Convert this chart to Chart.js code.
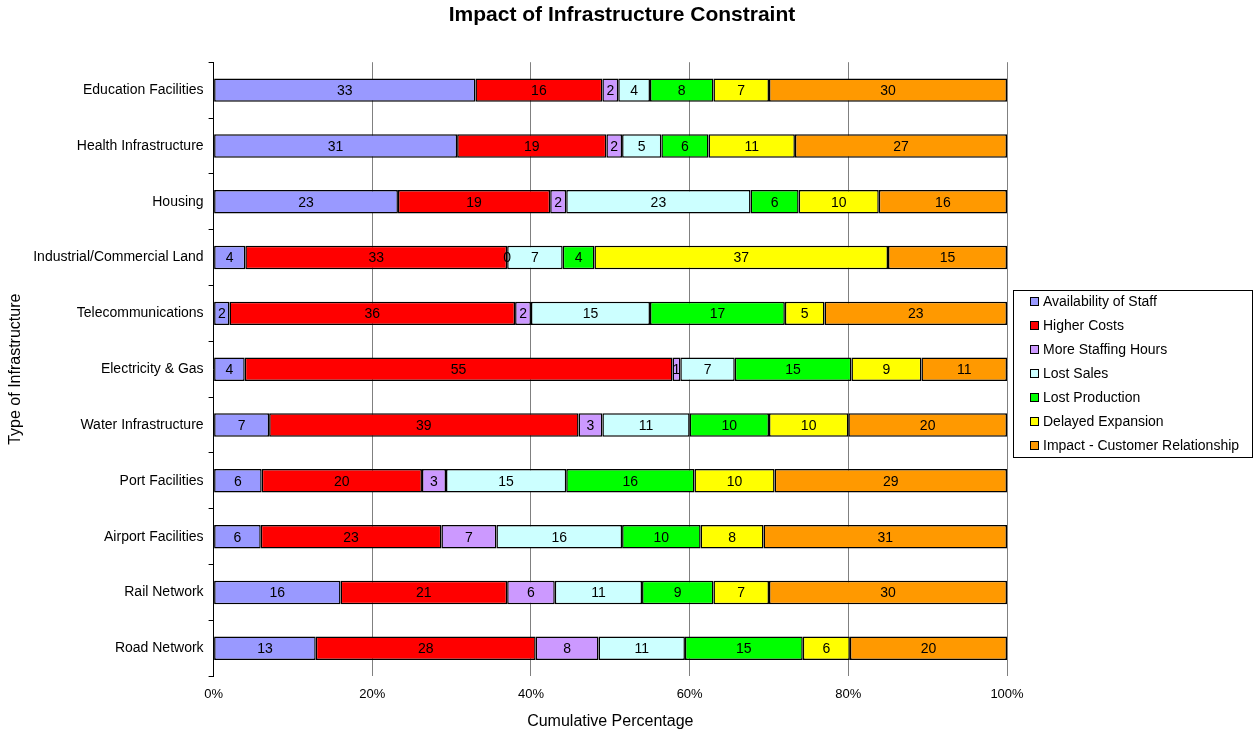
<!DOCTYPE html>
<html>
<head>
<meta charset="utf-8">
<script src="https://cdn.jsdelivr.net/npm/chart.js@4.4.0/dist/chart.umd.min.js"></script>
<style>
  html, body { margin: 0; padding: 0; background: #fff; }
  #wrap { width: 1255px; height: 733px; }
</style>
</head>
<body>
<div id="wrap"><canvas id="grafica" width="1255" height="733"></canvas></div>
<script>
// categorias (de arriba hacia abajo)
const tipos = ["Education Facilities", "Health Infrastructure", "Housing", "Industrial/Commercial Land",
  "Telecommunications", "Electricity & Gas", "Water Infrastructure", "Port Facilities",
  "Airport Facilities", "Rail Network", "Road Network"];

const staff      = [33, 31, 23, 4, 2, 4, 7, 6, 6, 16, 13];
const costs      = [16, 19, 19, 33, 36, 55, 39, 20, 23, 21, 28];
const hours      = [2, 2, 2, 0, 2, 1, 3, 3, 7, 6, 8];
const sales      = [4, 5, 23, 7, 15, 7, 11, 15, 16, 11, 11];
const production = [8, 6, 6, 4, 17, 15, 10, 16, 10, 9, 15];
const expansion  = [7, 11, 10, 37, 5, 9, 10, 10, 8, 7, 6];
const customer   = [30, 27, 16, 15, 23, 11, 20, 29, 31, 30, 20];

const xTicks = [0, 20, 40, 60, 80, 100];

const FUENTE = "'Liberation Sans', Arial, sans-serif";

const series = [
  { nombre: "Availability of Staff", datos: staff, color: "#9999FF" },
  { nombre: "Higher Costs", datos: costs, color: "#FF0000" },
  { nombre: "More Staffing Hours", datos: hours, color: "#CC99FF" },
  { nombre: "Lost Sales", datos: sales, color: "#CCFFFF" },
  { nombre: "Lost Production", datos: production, color: "#00FF00" },
  { nombre: "Delayed Expansion", datos: expansion, color: "#FFFF00" },
  { nombre: "Impact - Customer Relationship", datos: customer, color: "#FF9900" }
];

// totales por fila para el apilado al 100%
const totales = tipos.map((t, i) => series.reduce((s, serie) => s + serie.datos[i], 0));

const datasets = series.map(serie => ({
  label: serie.nombre,
  data: serie.datos.map((v, i) => v / totales[i] * 100),
  valores: serie.datos,
  backgroundColor: serie.color,
  borderColor: "#000",
  borderWidth: 1.5,
  borderSkipped: false,
  barPercentage: 0.42,
  categoryPercentage: 1.0
}));

// etiquetas dentro de las barras
const etiquetasBarras = {
  id: "etiquetasBarras",
  afterDatasetsDraw(chart) {
    const ctx = chart.ctx;
    ctx.save();
    ctx.font = "14px " + FUENTE;
    ctx.fillStyle = "#000";
    ctx.textAlign = "center";
    ctx.textBaseline = "middle";
    chart.data.datasets.forEach((ds, di) => {
      const meta = chart.getDatasetMeta(di);
      meta.data.forEach((bar, i) => {
        const cx = (bar.x + bar.base) / 2;
        ctx.fillText(String(ds.valores[i]), cx, bar.y + 1);
      });
    });
    ctx.restore();
  }
};

// espacio reservado a la derecha para la leyenda (el titulo queda centrado en todo el ancho)
const espacioLeyenda = {
  id: "espacioLeyenda",
  beforeInit(chart) {
    Chart.layouts.addBox(chart, {
      position: "right",
      weight: 500,
      fullSize: false,
      options: {},
      left: 0, top: 0, right: 0, bottom: 0, width: 0, height: 0,
      isHorizontal() { return false; },
      update(maxWidth, maxHeight) { this.width = 231; this.height = maxHeight; },
      draw() {}
    });
  }
};

// leyenda con marco, a la derecha del grafico
const leyenda = {
  id: "leyenda",
  afterDraw(chart) {
    const ctx = chart.ctx;
    const x0 = chart.chartArea.right + 6;
    const y0 = 290;
    ctx.save();
    ctx.strokeStyle = "#000";
    ctx.lineWidth = 1;
    ctx.strokeRect(x0 + 0.5, y0 + 0.5, 239, 167);
    ctx.font = "14px " + FUENTE;
    ctx.textAlign = "left";
    ctx.textBaseline = "middle";
    chart.data.datasets.forEach((ds, i) => {
      const y = y0 + 11 + i * 24;
      ctx.fillStyle = ds.backgroundColor;
      ctx.fillRect(x0 + 17, y - 4, 8, 8);
      ctx.strokeRect(x0 + 17.5, y - 3.5, 8, 8);
      ctx.fillStyle = "#000";
      ctx.fillText(ds.label, x0 + 30, y + 1);
    });
    ctx.restore();
  }
};

new Chart(document.getElementById("grafica"), {
  type: "bar",
  data: { labels: tipos, datasets: datasets },
  options: {
    indexAxis: "y",
    responsive: false,
    animation: false,
    layout: { padding: { left: 6, right: 17, top: 0, bottom: 2 } },
    plugins: {
      title: {
        display: true,
        text: "Impact of Infrastructure Constraint",
        color: "#000",
        font: { family: FUENTE, size: 21, weight: "bold" },
        padding: { top: 3, bottom: 34 }
      },
      legend: { display: false },
      tooltip: { enabled: false }
    },
    scales: {
      x: {
        stacked: true,
        min: 0,
        max: 100,
        afterBuildTicks(axis) { axis.ticks = xTicks.map(v => ({ value: v })); },
        ticks: {
          color: "#000",
          font: { family: FUENTE, size: 13 },
          callback: v => v + "%",
          padding: 10
        },
        grid: { color: "#808080", lineWidth: 1, drawTicks: false },
        border: { display: false },
        title: {
          display: true,
          text: "Cumulative Percentage",
          color: "#000",
          font: { family: FUENTE, size: 16 },
          padding: { top: 0, bottom: 0 }
        }
      },
      y: {
        stacked: true,
        ticks: {
          color: "#000",
          font: { family: FUENTE, size: 14 },
          padding: 5
        },
        grid: { offset: true, drawOnChartArea: false, tickLength: 5, color: "#000" },
        border: { display: true, color: "#000", width: 1 },
        title: {
          display: true,
          text: "Type of Infrastructure",
          color: "#000",
          font: { family: FUENTE, size: 16 },
          padding: { top: 0, bottom: 3 }
        }
      }
    }
  },
  plugins: [espacioLeyenda, etiquetasBarras, leyenda]
});
</script>
</body>
</html>
